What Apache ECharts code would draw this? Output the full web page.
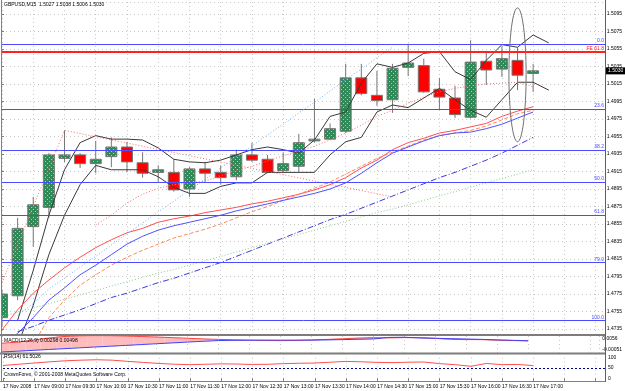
<!DOCTYPE html>
<html>
<head>
<meta charset="utf-8">
<script src="https://cdn.jsdelivr.net/npm/echarts@6/dist/echarts.min.js"></script>
<style>
html, body { margin: 0; padding: 0; background: #fff; }
#chart { width: 625px; height: 391px; }
</style>
</head>
<body>
<div id="chart"></div>
<script>
// GBPUSD M15, 17 Nov 2008
const times = ['08:30', '08:45', '09:00', '09:15', '09:30', '09:45', '10:00', '10:15', '10:30', '10:45',
  '11:00', '11:15', '11:30', '11:45', '12:00', '12:15', '12:30', '12:45', '13:00', '13:15',
  '13:30', '13:45', '14:00', '14:15', '14:30', '14:45', '15:00', '15:15', '15:30', '15:45',
  '16:00', '16:15', '16:30', '16:45', '17:00']
const opens = [1.4748, 1.4773, 1.4852, 1.4874, 1.4930, 1.4934, 1.4924, 1.4932, 1.4943, 1.4925,
  1.4914, 1.4914, 1.4895, 1.4918, 1.4914, 1.4909, 1.4934, 1.4929, 1.4916, 1.4921,
  1.4950, 1.4952, 1.4961, 1.5022, 1.5002, 1.4997, 1.5034, 1.5036, 1.5009, 1.4999,
  1.4977, 1.5041, 1.5032, 1.5042, 1.5027]
const highs = [1.4780, 1.4862, 1.4886, 1.4936, 1.4962, 1.4936, 1.4950, 1.4954, 1.4949, 1.4937,
  1.4922, 1.4929, 1.4920, 1.4926, 1.4922, 1.4940, 1.4948, 1.4934, 1.4937, 1.4958,
  1.4998, 1.4970, 1.5038, 1.5038, 1.5030, 1.5038, 1.5061, 1.5044, 1.5022, 1.5013,
  1.5065, 1.5052, 1.5058, 1.5057, 1.5038]
const lows = [1.4738, 1.4768, 1.4829, 1.4862, 1.4926, 1.4919, 1.4913, 1.4920, 1.4914, 1.4908,
  1.4902, 1.4892, 1.4886, 1.4902, 1.4900, 1.4905, 1.4926, 1.4913, 1.4914, 1.4914,
  1.4948, 1.4951, 1.4959, 1.5002, 1.4990, 1.4982, 1.5024, 1.5005, 1.4986, 1.4976,
  1.4976, 1.5014, 1.5023, 1.5008, 1.5006]
const closes = [1.4775, 1.4850, 1.4877, 1.4934, 1.4934, 1.4924, 1.4929, 1.4943, 1.4926, 1.4913,
  1.4917, 1.4894, 1.4918, 1.4913, 1.4908, 1.4934, 1.4928, 1.4914, 1.4924, 1.4948,
  1.4952, 1.4964, 1.5022, 1.5004, 1.4996, 1.5033, 1.5039, 1.5006, 1.5000, 1.4980,
  1.5040, 1.5031, 1.5044, 1.5025, 1.5030]

// channel lines (black), shifted one bar forward
const upperBand = [null, 1.4745, 1.4802, 1.4865, 1.4917, 1.4948, 1.4956, 1.4952, 1.4952, 1.4951,
  1.4942, 1.4929, 1.4926, 1.4925, 1.4928, 1.4934, 1.4940, 1.4943, 1.4940, 1.4936,
  1.4951, 1.4978, 1.4983, 1.5016, 1.5038, 1.5034, 1.5039, 1.5050, 1.5052, 1.5029,
  1.5020, 1.5042, 1.5060, 1.5057, 1.5071, 1.5062]
const lowerBand = [null, 1.4717, 1.4762, 1.4820, 1.4865, 1.4900, 1.4922, 1.4917, 1.4917, 1.4917,
  1.4909, 1.4897, 1.4890, 1.4890, 1.4898, 1.4902, 1.4902, 1.4914, 1.4914, 1.4914,
  1.4914, 1.4934, 1.4949, 1.4954, 1.4983, 1.4991, 1.4988, 1.4999, 1.5010, 1.4997,
  1.4985, 1.4977, 1.4997, 1.5017, 1.5017, 1.5008]
const maRed = [1.4734, 1.4757, 1.4776, 1.4791, 1.4805, 1.4817, 1.4828, 1.4837, 1.4845, 1.4850,
  1.4857, 1.4861, 1.4864, 1.4868, 1.4871, 1.4874, 1.4878, 1.4881, 1.4885, 1.4889,
  1.4894, 1.4900, 1.4908, 1.4919, 1.4928, 1.4940, 1.4948, 1.4953, 1.4959, 1.4962,
  1.4966, 1.4970, 1.4978, 1.4984, 1.4989]
const maOrange = [null, null, 1.4717, 1.4748, 1.4768, 1.4785, 1.4797, 1.4808, 1.4817, 1.4825,
  1.4832, 1.4839, 1.4844, 1.4849, 1.4855, 1.4862, 1.4869, 1.4875, 1.4882, 1.4889,
  1.4896, 1.4903, 1.4912, 1.4921, 1.4930, 1.4937, 1.4944, 1.4951, 1.4956, 1.4959,
  1.4962, 1.4967, 1.4974, 1.4981, 1.4985]
const maBlue = [1.4717, 1.4730, 1.4748, 1.4768, 1.4782, 1.4797, 1.4808, 1.4820, 1.4832, 1.4841,
  1.4848, 1.4853, 1.4857, 1.4861, 1.4865, 1.4870, 1.4874, 1.4878, 1.4882, 1.4886,
  1.4890, 1.4895, 1.4902, 1.4913, 1.4925, 1.4936, 1.4943, 1.4950, 1.4956, 1.4959,
  1.4960, 1.4964, 1.4969, 1.4976, 1.4983]
const maBlueSlow = [null, 1.4732, 1.4738, 1.4745, 1.4751, 1.4757, 1.4764, 1.4771, 1.4776, 1.4782,
  1.4788, 1.4793, 1.4799, 1.4805, 1.4811, 1.4818, 1.4825, 1.4832, 1.4839, 1.4846,
  1.4853, 1.4860, 1.4866, 1.4873, 1.4880, 1.4887, 1.4894, 1.4901, 1.4908, 1.4914,
  1.4921, 1.4928, 1.4936, 1.4945, 1.4954]
const maGreen = [1.4749, 1.4754, 1.4759, 1.4764, 1.4769, 1.4774, 1.4779, 1.4784, 1.4789, 1.4794,
  1.4799, 1.4803, 1.4808, 1.4813, 1.4818, 1.4823, 1.4828, 1.4833, 1.4838, 1.4843,
  1.4848, 1.4853, 1.4858, 1.4863, 1.4868, 1.4872, 1.4877, 1.4882, 1.4887, 1.4892,
  1.4897, 1.4902, 1.4907, 1.4912, 1.4917]
const trendSky = [null, 1.4751, 1.4764, 1.4781, 1.4793, 1.4806, 1.4818, 1.4831, 1.4844, 1.4856,
  1.4869, 1.4881, 1.4894, 1.4906, 1.4919, 1.4932, 1.4944, 1.4957, 1.4969, 1.4982,
  1.4994, 1.5007, 1.5020, 1.5032, 1.5045, 1.5057]
const zigRed = [1.4788, null, null, null, 1.4962, null, null, null, null, null,
  null, null, null, null, null, null, null, null, null, null,
  null, null, null, null, null, 1.4886]
const maRedDot = [null, null, null, null, null, null, 1.4854, 1.4865, 1.4879, 1.4889,
  1.4896, 1.4900, 1.4902, 1.4904, 1.4910, 1.4916, 1.4921, 1.4927, 1.4933, 1.4938,
  1.4944, 1.4951, 1.4959, 1.4968, 1.4978, 1.4985, 1.4993, 1.5000, 1.5006, 1.5010,
  1.5013, 1.5015, 1.5016, 1.5017, 1.5012]

// fibonacci retracement
const fibHigh = 1.50604
const fibLow = 1.47445
const fibLevels = [0, 23.6, 38.2, 50, 61.8, 79, 100]
const fe618 = 1.50519
// ellipse object: [bar, top price, bottom price]
const ellipse = [[33, 1.5102, 1.4949]]

// MACD(12,26,9) and RSI(14)
const macdMain = [0.00293, 0.00331, 0.00407, 0.00484, 0.00541, 0.00568, 0.00575, 0.00571, 0.0056, 0.00541,
  0.00522, 0.00499, 0.00476, 0.00453, 0.00434, 0.00419, 0.00407, 0.00396, 0.00388, 0.00396,
  0.00415, 0.00434, 0.00457, 0.00484, 0.00499, 0.00491, 0.00499, 0.00499, 0.00472, 0.00438,
  0.00426, 0.00426, 0.00407, 0.00392, 0.0038]
const macdSignal = [-0.00032, -0.00002, 0.00029, 0.0006, 0.0009, 0.00121, 0.00151, 0.00182, 0.00212, 0.00243,
  0.00274, 0.00304, 0.00335, 0.00365, 0.00392, 0.004, 0.00403, 0.00407, 0.00407, 0.00407,
  0.00407, 0.00415, 0.00426, 0.00438, 0.00449, 0.00507, 0.00514, 0.00487, 0.00476, 0.00461,
  0.00449, 0.00434, 0.00415, 0.004, 0.00384]
const rsi = [62, 68, 74, 80, 85, 88, 90, 88, 82, 77,
  72, 68, 66, 68, 70, 69, 67, 68, 71, 73,
  74, 78, 82, 80, 77, 76, 78, 79, 71, 66,
  58, 72, 66, 67, 61.5]

const xMax = 38.6
const font = "'Liberation Sans', Arial, sans-serif"
const fs = 5
const gridLine = { color: '#c8c8c8', type: [1, 3] }
const fibBlue = '#4b4bff'

function pts(arr) {
  const out = []
  arr.forEach((v, i) => { if (v !== null) out.push([i, v]) })
  return out
}

const tile = document.createElement('canvas')
tile.width = 4
tile.height = 4
const tg = tile.getContext('2d')
tg.fillStyle = '#2e8b57'
tg.fillRect(0, 0, 4, 4)
tg.fillStyle = '#9fd4b4'
tg.fillRect(1, 1, 1, 1)
tg.fillRect(3, 3, 1, 1)
const greenFill = { image: tile, repeat: 'repeat' }

function line(name, arr, color, type, width) {
  return {
    name: name,
    type: 'line',
    xAxisIndex: 0,
    yAxisIndex: 0,
    data: pts(arr),
    symbol: 'none',
    clip: true,
    silent: true,
    z: 4,
    lineStyle: { color: color, width: width || 1, type: type || 'solid' }
  }
}

const fibLines = fibLevels.map(l => ({
  yAxis: fibHigh - (fibHigh - fibLow) * l / 100,
  lineStyle: { color: fibBlue, width: 1, type: 'solid', opacity: 1 },
  label: { formatter: l.toFixed(1), color: fibBlue }
}))
fibLines.push({
  yAxis: fe618,
  lineStyle: { color: '#ff2020', width: 2, type: 'solid', opacity: 1 },
  label: { formatter: 'FE 61.8', color: '#ff2020' }
})

const last = opens.length - 1
const titleText = 'GBPUSD,M15  ' + opens[last].toFixed(4) + ' ' + highs[last].toFixed(4) + ' ' +
  lows[last].toFixed(4) + ' ' + closes[last].toFixed(4)

const chart = echarts.init(document.getElementById('chart'), null, { renderer: 'canvas' })
chart.setOption({
  animation: false,
  backgroundColor: '#fff',
  grid: [
    { left: 2, right: 20, top: 2, height: 331.4 },
    { left: 2, right: 20, top: 2, height: 327 },
    { left: 2, right: 20, top: 336, height: 16.5 },
    { left: 2, right: 20, top: 357.7, height: 20.5 }
  ],
  xAxis: [
    {
      gridIndex: 0, type: 'value', min: 0, max: xMax, interval: 2,
      axisLine: { show: false }, axisTick: { show: false }, axisLabel: { show: false },
      splitLine: { show: true, lineStyle: gridLine }
    },
    { gridIndex: 1, type: 'value', min: 0, max: xMax, show: false },
    {
      gridIndex: 2, type: 'value', min: 0, max: xMax, interval: 2,
      axisLine: { show: false }, axisTick: { show: false }, axisLabel: { show: false },
      splitLine: { show: true, lineStyle: gridLine }
    },
    {
      gridIndex: 3, type: 'value', min: 0, max: xMax, interval: 2, offset: 3.5,
      axisLine: { show: false },
      axisTick: { show: true, length: 3, lineStyle: { color: '#808080' } },
      axisLabel: {
        show: true, align: 'left', margin: 2, fontSize: fs, color: '#000', fontFamily: font,
        showMaxLabel: false, hideOverlap: false,
        formatter: v => {
          const i = Math.round(v)
          if (Math.abs(i - v) > 1e-6 || i > last || i % 2) return ''
          return i === 0 ? '17 Nov 2008' : '17 Nov ' + times[i]
        }
      },
      splitLine: { show: true, lineStyle: gridLine }
    }
  ],
  yAxis: [
    { gridIndex: 0, type: 'value', min: 1.4730, max: 1.51087, show: false },
    {
      gridIndex: 1, type: 'value', position: 'right', min: 1.4735, max: 1.51087, interval: 0.002,
      axisLine: { show: false },
      axisTick: { show: true, length: 2, lineStyle: { color: '#808080' } },
      axisLabel: {
        fontSize: fs, margin: 3, color: '#000', fontFamily: font, showMaxLabel: false,
        formatter: v => v.toFixed(4)
      },
      splitLine: { show: true, lineStyle: gridLine }
    },
    {
      gridIndex: 2, type: 'value', position: 'right', min: -0.00051, max: 0.0056, interval: 0.00611,
      axisLine: { show: false }, axisTick: { show: false }, splitLine: { show: false },
      axisLabel: {
        fontSize: fs, margin: 3, color: '#000', fontFamily: font,
        verticalAlignMinLabel: 'bottom', verticalAlignMaxLabel: 'top',
        formatter: v => Math.abs(v - 0.0056) < 1e-7 ? '0.0056' : (Math.abs(v + 0.00051) < 1e-7 ? '-0.00051' : '')
      }
    },
    {
      gridIndex: 3, type: 'value', position: 'right', min: 0, max: 100, interval: 50,
      axisLine: { show: false }, axisTick: { show: true, length: 2, lineStyle: { color: '#808080' } },
      splitLine: { show: false },
      axisLabel: { fontSize: fs, margin: 3, color: '#000', fontFamily: font }
    }
  ],
  graphic: [
    { type: 'rect', shape: { x: 0, y: 334, width: 606, height: 2 }, style: { fill: '#7c7c7c' }, z: 50 },
    { type: 'rect', shape: { x: 0, y: 352.5, width: 606, height: 2 }, style: { fill: '#7c7c7c' }, z: 50 },
    { type: 'line', shape: { x1: 0, y1: 381.5, x2: 606, y2: 381.5 }, style: { stroke: '#808080', lineWidth: 1 }, z: 50 },
    { type: 'line', shape: { x1: 1.5, y1: 0, x2: 1.5, y2: 382 }, style: { stroke: '#808080', lineWidth: 1 }, z: 50 },
    { type: 'line', shape: { x1: 605.5, y1: 0, x2: 605.5, y2: 382 }, style: { stroke: '#606060', lineWidth: 1 }, z: 50 },
    { type: 'text', left: 4, top: 2, style: { text: titleText, fontSize: fs, fontFamily: font, fill: '#000' }, z: 60 },
    { type: 'text', left: 4, top: 338, style: { text: 'MACD(12,26,9) 0.00298 0.00498', fontSize: fs, fontFamily: font, fill: '#000' }, z: 60 },
    { type: 'text', left: 4, top: 354.5, style: { text: 'RSI(14) 61.5026', fontSize: fs, fontFamily: font, fill: '#000' }, z: 60 },
    { type: 'text', left: 4, top: 372, style: { text: 'CrownForex, \u00a9 2001-2008 MetaQuotes Software Corp.', fontSize: fs, fontFamily: font, fill: '#000' }, z: 60 }
  ],
  series: [
    {
      name: 'candles',
      type: 'custom',
      xAxisIndex: 0,
      yAxisIndex: 0,
      clip: true,
      silent: true,
      z: 3,
      data: opens.map((o, i) => [i, o, closes[i], lows[i], highs[i]]),
      renderItem: (params, api) => {
        const i = api.value(0)
        const o = api.coord([i, api.value(1)])
        const c = api.coord([i, api.value(2)])
        const l = api.coord([i, api.value(3)])
        const h = api.coord([i, api.value(4)])
        const w = 11
        const up = api.value(2) >= api.value(1)
        const top = Math.min(o[1], c[1])
        const bot = Math.max(o[1], c[1])
        return {
          type: 'group',
          children: [
            { type: 'line', shape: { x1: h[0], y1: h[1], x2: l[0], y2: l[1] }, style: { stroke: '#767676', lineWidth: 1 } },
            {
              type: 'rect',
              shape: { x: o[0] - w / 2, y: top, width: w, height: Math.max(bot - top, 1) },
              style: { fill: up ? greenFill : '#ff0000', stroke: '#767676', lineWidth: 1 }
            }
          ]
        }
      }
    },
    line('upper', upperBand, '#3a3a3a'),
    line('lower', lowerBand, '#3a3a3a'),
    line('maRed', maRed, '#ff5050'),
    line('maOrange', maOrange, '#ff8a5c', [4, 2]),
    line('maBlue', maBlue, '#5050ff'),
    line('maBlueSlow', maBlueSlow, '#3a3ae0', [6, 2, 1, 2]),
    line('trendSky', trendSky, '#6cb4ff', [1, 2]),
    line('zigRed', zigRed, '#ff6a6a', [1, 2]),
    line('maRedDot', maRedDot, '#ff6a6a', [1, 2]),
    Object.assign(line('maGreen', maGreen, '#8cc88c', [1, 2]), {
      markLine: {
        silent: true,
        symbol: ['none', 'none'],
        animation: false,
        precision: 6,
        label: { position: 'insideEndTop', distance: 1, fontSize: fs, fontFamily: font },
        data: fibLines
      }
    }),
    {
      name: 'lastPrice',
      type: 'line',
      xAxisIndex: 0,
      yAxisIndex: 0,
      data: [[last, closes[last]]],
      symbol: 'none',
      clip: false,
      silent: true,
      z: 20,
      lineStyle: { color: 'rgba(0,0,0,0)' },
      markLine: {
        silent: true,
        symbol: ['none', 'none'],
        animation: false,
        precision: 6,
        lineStyle: { color: 'rgba(0,0,0,0)', width: 0 },
        label: {
          show: true, position: 'end', distance: 1, fontSize: fs, fontFamily: font,
          formatter: closes[last].toFixed(4), opacity: 1,
          color: '#fff', backgroundColor: '#000', padding: [1, 3, 1, 2]
        },
        data: [{ yAxis: closes[last] }]
      }
    },
    {
      name: 'ellipse',
      type: 'custom',
      xAxisIndex: 0,
      yAxisIndex: 0,
      silent: true,
      z: 6,
      data: ellipse,
      renderItem: (params, api) => {
        const i = api.value(0)
        const a = api.coord([i - 0.55, api.value(1)])
        const b = api.coord([i + 0.55, api.value(2)])
        const cx = (a[0] + b[0]) / 2
        const cy = (a[1] + b[1]) / 2
        const rx = Math.abs(b[0] - a[0]) / 2
        const ry = Math.abs(b[1] - a[1]) / 2
        const points = []
        for (let k = 0; k < 64; k++) {
          const t = k / 64 * Math.PI * 2
          points.push([cx + rx * Math.cos(t), cy + ry * Math.sin(t)])
        }
        return { type: 'polygon', shape: { points: points }, style: { fill: 'none', stroke: '#707070', lineWidth: 1 } }
      }
    },
    {
      name: 'hist',
      type: 'custom',
      xAxisIndex: 2,
      yAxisIndex: 2,
      clip: true,
      silent: true,
      data: macdMain.map((m, i) => [i, m, macdSignal[i]]),
      renderItem: (params, api) => {
        const i = api.value(0)
        const a = api.coord([i - 0.5, api.value(1)])
        const b = api.coord([i + 0.5, api.value(2)])
        return {
          type: 'rect',
          shape: { x: a[0], y: Math.min(a[1], b[1]), width: b[0] - a[0], height: Math.abs(b[1] - a[1]) },
          style: { fill: api.value(1) >= api.value(2) ? '#ffbcbc' : '#c4c4ff' }
        }
      }
    },
    {
      name: 'MACD', type: 'line', xAxisIndex: 2, yAxisIndex: 2, data: pts(macdMain),
      symbol: 'none', clip: true, silent: true, lineStyle: { color: '#ff4040', width: 1 }
    },
    {
      name: 'Signal', type: 'line', xAxisIndex: 2, yAxisIndex: 2, data: pts(macdSignal),
      symbol: 'none', clip: true, silent: true, lineStyle: { color: '#4040ff', width: 1 }
    },
    {
      name: 'RSI', type: 'line', xAxisIndex: 3, yAxisIndex: 3, data: pts(rsi),
      symbol: 'none', clip: true, silent: true, lineStyle: { color: '#ff5050', width: 1 },
      markLine: {
        silent: true, symbol: ['none', 'none'], animation: false, label: { show: false },
        lineStyle: { color: '#000080', width: 1, type: [2, 2] },
        data: [{ yAxis: 50 }]
      }
    }
  ]
})
</script>
</body>
</html>
